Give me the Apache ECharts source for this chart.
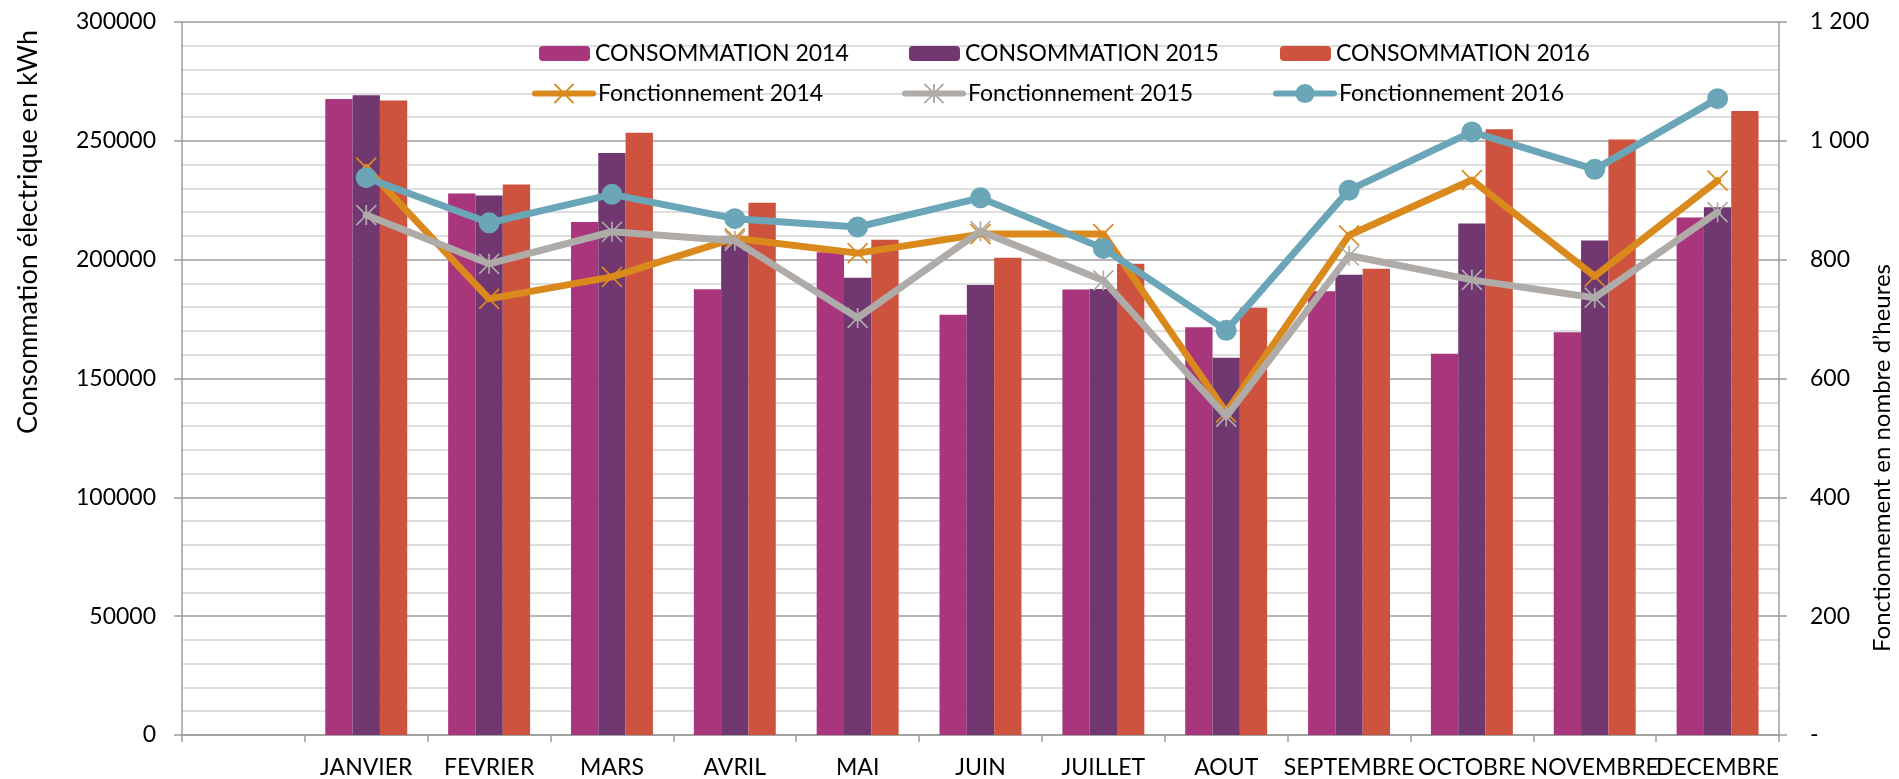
<!DOCTYPE html>
<html>
<head>
<meta charset="utf-8">
<script src="https://cdn.jsdelivr.net/npm/echarts@6/dist/echarts.min.js"></script>
<style>
html,body{margin:0;padding:0;background:#fff;}
#chart{width:1899px;height:779px;}
</style>
</head>
<body>
<div id="chart"></div>
<script>
// ---- data ----
var months = ['', 'JANVIER', 'FEVRIER', 'MARS', 'AVRIL', 'MAI', 'JUIN', 'JUILLET', 'AOUT', 'SEPTEMBRE', 'OCTOBRE', 'NOVEMBRE', 'DECEMBRE'];
var cons2014 = [null, 267600, 227800, 215900, 187600, 203100, 176800, 187500, 171600, 186700, 160400, 169500, 217700];
var cons2015 = [null, 269200, 227000, 244900, 209800, 192400, 189300, 187700, 158700, 193700, 215200, 208100, 222100];
var cons2016 = [null, 267000, 231600, 253400, 223900, 208400, 200800, 198300, 179800, 196200, 254900, 250600, 262600];
var fonc2014 = [null, 955, 734, 771, 836, 811, 843, 843, 543, 841, 934, 772, 933];
var fonc2015 = [null, 875, 793, 847, 832, 702, 848, 765, 536, 807, 766, 736, 880];
var fonc2016 = [null, 938, 862, 910, 869, 855, 904, 819, 681, 917, 1015, 952, 1071];
var barNames = ['CONSOMMATION 2014', 'CONSOMMATION 2015', 'CONSOMMATION 2016'];
var lineNames = ['Fonctionnement 2014', 'Fonctionnement 2015', 'Fonctionnement 2016'];
var leftTitle = 'Consommation électrique en kWh';
var rightTitle = 'Fonctionnement en nombre d\u2019heures';

// ---- styles ----
var FONT = 'Lato, "Open Sans", sans-serif';
var barColors = ['#A9357C', '#713770', '#CD533E'];
var lineColors = ['#DA8A1C', '#AEABA8', '#6AA6B8'];
var LW = 7;
var xSym = 'path://M0,0 L20,20 M20,0 L0,20';
var starSym = 'path://M0,0 L20,20 M20,0 L0,20 M10,0 L10,20';

var chart = echarts.init(document.getElementById('chart'), null, {renderer: 'canvas'});

function barSeries(i, data) {
  return {
    name: barNames[i], type: 'bar', data: data, yAxisIndex: 0,
    barGap: '0%', barCategoryGap: '33.3%',
    itemStyle: {color: barColors[i]},
    emphasis: {disabled: true}
  };
}
function lineSeries(i, data, sym, size, stroke) {
  var it = {color: lineColors[i]};
  if (stroke) { it.borderColor = lineColors[i]; it.borderWidth = 1.7; }
  return {
    name: lineNames[i], type: 'line', data: data, yAxisIndex: 1,
    symbol: sym, symbolSize: size, showAllSymbol: true,
    lineStyle: {color: lineColors[i], width: LW, cap: 'round', join: 'round'},
    itemStyle: it, z: 5 + i,
    emphasis: {disabled: true}
  };
}

var legends = [];
var colX = [0, 370, 741];
for (var k = 0; k < 3; k++) {
  legends.push({
    data: [barNames[k]], left: 539 + colX[k], top: 42, padding: 0,
    itemWidth: 51, itemHeight: 15, selectedMode: false,
    textStyle: {fontFamily: FONT, fontSize: 23, color: '#000'}
  });
  legends.push({
    data: [lineNames[k]], left: 532 + colX[k], top: 82, padding: 0,
    itemWidth: 58, itemHeight: 24, selectedMode: false,
    lineStyle: {width: 6},
    textStyle: {fontFamily: FONT, fontSize: 23, color: '#000'}
  });
}

var option = {
  animation: false,
  backgroundColor: '#fff',
  grid: {left: 182, right: 120, top: 22, bottom: 44, containLabel: false},
  legend: legends,
  xAxis: {
    type: 'category', data: months, boundaryGap: true,
    axisLine: {show: true, lineStyle: {color: '#9C9C9C', width: 1.5}},
    axisTick: {show: true, alignWithLabel: false, length: 7, lineStyle: {color: '#9C9C9C', width: 1.5}},
    axisLabel: {interval: 0, margin: 21, fontFamily: FONT, fontSize: 23, color: '#000'},
    splitLine: {show: false}
  },
  yAxis: [{
    type: 'value', min: 0, max: 300000, interval: 50000, position: 'left',
    axisLine: {show: true, lineStyle: {color: '#9C9C9C', width: 1.5}},
    axisTick: {show: true, length: 8, lineStyle: {color: '#9C9C9C', width: 1.5}},
    axisLabel: {margin: 26, fontFamily: FONT, fontSize: 23, color: '#000',
      formatter: function (v) { return String(v); }},
    splitLine: {show: true, lineStyle: {color: '#9E9E9E', width: 1.5}},
    minorTick: {show: false, splitNumber: 5},
    minorSplitLine: {show: true, lineStyle: {color: '#D4D4D4', width: 1.5}}
  }, {
    type: 'value', min: 0, max: 1200, interval: 200, position: 'right',
    axisLine: {show: true, lineStyle: {color: '#9C9C9C', width: 1.5}},
    axisTick: {show: true, length: 8, lineStyle: {color: '#9C9C9C', width: 1.5}},
    axisLabel: {
      margin: 31, fontFamily: FONT, fontSize: 23, color: '#000',
      formatter: function (v) { return v === 0 ? '-' : String(v).replace(/\B(?=(\d{3})+(?!\d))/g, ' '); }
    },
    splitLine: {show: false}
  }],
  graphic: [{
    type: 'text', x: 28, y: 232, rotation: Math.PI / 2,
    style: {text: leftTitle, font: '27px ' + FONT, fill: '#000', textAlign: 'center', textVerticalAlign: 'middle'}
  }, {
    type: 'text', x: 1882, y: 458, rotation: Math.PI / 2,
    style: {text: rightTitle, font: '24px ' + FONT, fill: '#000', textAlign: 'center', textVerticalAlign: 'middle'}
  }],
  series: [
    barSeries(0, cons2014), barSeries(1, cons2015), barSeries(2, cons2016),
    lineSeries(0, fonc2014, xSym, 20, true),
    lineSeries(1, fonc2015, starSym, 20, true),
    lineSeries(2, fonc2016, 'circle', 21, false)
  ]
};
chart.setOption(option);
</script>
</body>
</html>
